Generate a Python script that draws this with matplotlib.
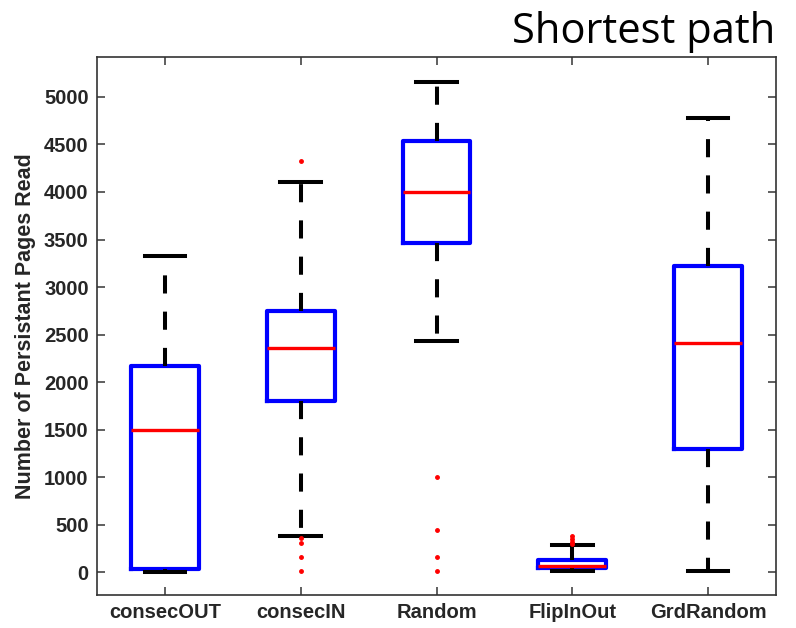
import matplotlib
matplotlib.use("Agg")
import matplotlib.pyplot as plt

categories = ["consecOUT", "consecIN", "Random", "FlipInOut", "GrdRandom"]
whisker_low = [0, 380, 2430, 10, 10]
q1 = [30, 1800, 3460, 40, 1300]
median = [1500, 2360, 3995, 60, 2410]
q3 = [2170, 2750, 4540, 130, 3220]
whisker_high = [3330, 4100, 5155, 285, 4780]
outliers = [
    [],
    [4325, 355, 305, 158, 10],
    [1003, 440, 158, 10],
    [380, 350, 320, 300],
    [],
]

fig = plt.figure(figsize=(7.96, 6.28), dpi=100)
ax = fig.add_axes([97 / 796, 33 / 628, 679 / 796, 538 / 628])

stats = []
for i, name in enumerate(categories):
    stats.append(dict(label=name, whislo=whisker_low[i], q1=q1[i], med=median[i],
                      q3=q3[i], whishi=whisker_high[i], fliers=outliers[i]))

ax.bxp(stats, positions=range(1, len(categories) + 1), widths=0.5,
       showfliers=True, capwidths=0.3,
       boxprops=dict(color="#0000ff", linewidth=3.0),
       medianprops=dict(color="#ff0000", linewidth=2.4),
       whiskerprops=dict(color="black", linewidth=2.9, linestyle=(0, (4.5, 4.5))),
       capprops=dict(color="black", linewidth=2.9),
       flierprops=dict(marker=".", markerfacecolor="#ff0000", markeredgecolor="#ff0000",
                       markersize=5, linestyle="none"))

tick_font = dict(family="Liberation Sans", size=14.5, weight="bold")
ax.set_xlim(0.5, 5.5)
ax.set_ylim(-240, 5420)
ax.set_yticks(range(0, 5001, 500))
ax.set_xticks(range(1, len(categories) + 1))
ax.set_xticklabels(categories, color="#262626", **tick_font)
for lbl in ax.get_yticklabels():
    lbl.set_fontproperties(tick_font)
    lbl.set_color("#262626")
ax.tick_params(direction="in", top=True, right=True, length=6, width=1.2, color="#444444", pad=6)
for s in ax.spines.values():
    s.set_linewidth(1.2)
    s.set_color("#333333")

ax.set_ylabel("Number of Persistant Pages Read", family="Liberation Sans", fontsize=15.5,
              fontweight="bold", color="#262626", labelpad=6)
fig.text(0.974, 1 - 43 / 628, "Shortest path", ha="right", va="baseline", fontsize=30,
         family="Open Sans")

fig.savefig("out.png", dpi=100)
